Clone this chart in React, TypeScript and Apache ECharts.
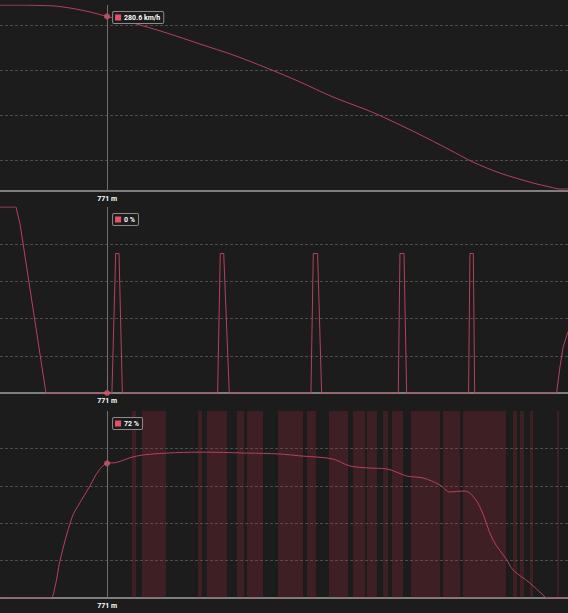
import React, { useEffect, useRef } from 'react';
import * as echarts from 'echarts';

// lap distance in metres
const speedDistance = [0, 144, 288, 396, 504, 648, 771, 958, 1202, 1440, 1678, 1922, 2160, 2398, 2642, 2758, 3002, 3240, 3406, 3600, 3838, 3960, 4032, 4090];
const speedKmh = [290.4, 290.4, 290.1, 289.6, 287.9, 284.5, 280.6, 275.0, 266.3, 256.8, 247.4, 236.1, 224.1, 211.1, 199.9, 193.9, 180.0, 165.4, 155.0, 145.5, 136.9, 133.5, 131.7, 131.9];

const brakeDistance = [0, 115, 144, 331, 806, 833, 857, 881, 1567, 1586, 1611, 1651, 2239, 2256, 2287, 2316, 2868, 2880, 2909, 2928, 3374, 3384, 3408, 3418, 4008, 4032, 4056, 4090];
const brakePct = [100, 100, 91, 0, 0, 75, 75, 0, 0, 75, 75, 0, 0, 75, 75, 0, 0, 75, 75, 0, 0, 75, 75, 0, 0, 14, 25, 33];

const throttleDistance = [0, 360, 396, 432, 518, 576, 648, 710, 771, 842, 936, 1030, 1202, 1440, 1778, 2016, 2160, 2398, 2520, 2664, 2786, 2930, 3046, 3168, 3240, 3334, 3384, 3456, 3550, 3650, 3694, 3816, 3910, 3938, 4090];
const throttlePct = [0, 0, 6, 20, 43, 51, 60, 68, 72, 72.5, 75, 76.5, 77.5, 78, 77.5, 77, 76, 74.3, 70.6, 69.5, 69, 65.2, 64.2, 60.4, 56.7, 57.2, 56.1, 48.7, 31, 20.3, 15, 8, 1.6, 0, 0];

// shaded stretches on the throttle trace [from, to] in metres
const throttleBands = [
  [950, 979], [1022, 1195], [1426, 1454], [1490, 1634], [1706, 1757], [1778, 1894],
  [2002, 2182], [2210, 2275], [2369, 2506], [2542, 2628], [2642, 2714], [2758, 2794],
  [2822, 2902], [2959, 3168], [3190, 3312], [3334, 3643], [3694, 3722], [3744, 3773],
  [3816, 3838], [4010, 4025],
];

// cursor readout
const cursorDistance = 771;
const cursorValues = [280.6, 0, 72];
const cursorUnits = ['km/h', '%', '%'];

const lapLength = 4090;

const BG = '#1c1c1c';
const LINE = '#b8405c';
const DOT = '#e8506a';
const GRID_LINE = '#4c4c4c';
const FONT = 'Roboto';

const gridTops = [5, 207, 411];
const gridHeights = [186, 186, 187];

const pair = (xs: number[], ys: number[]) => xs.map((x, i) => [x, ys[i]]);

const App: React.FC = () => {
  const chartRef = useRef<HTMLDivElement>(null);

  useEffect(() => {
    if (!chartRef.current) return;
    document.body.style.margin = '0';
    document.body.style.background = BG;

    const chart = echarts.init(chartRef.current, undefined, { renderer: 'svg' });

    const dashed = {
      show: true,
      showMinLine: false,
      showMaxLine: false,
      lineStyle: { color: GRID_LINE, type: [3, 2] as number[], width: 1 },
    };

    const xAxis = gridTops.map((_, i) => ({
      type: 'value' as const,
      gridIndex: i,
      min: 0,
      max: lapLength,
      axisLabel: { show: false },
      axisTick: { show: false },
      splitLine: { show: false },
      axisLine: { show: true, onZero: false, lineStyle: { color: '#a0a0a0', width: 1.5 } },
      axisPointer: {
        show: true,
        type: 'line' as const,
        value: cursorDistance,
        status: 'show' as const,
        snap: false,
        triggerTooltip: false,
        lineStyle: { color: '#707070', width: 1, type: 'solid' as const },
        label: {
          show: true,
          formatter: (p: any) => `${Math.round(p.value)} m`,
          backgroundColor: 'transparent',
          color: '#ffffff',
          fontSize: 7,
          fontWeight: 'bold' as const,
          fontFamily: FONT,
          padding: [2, 3],
          margin: 2,
          shadowBlur: 0,
        },
      },
    }));

    const hidden = {
      axisLine: { show: false },
      axisTick: { show: false },
      axisLabel: { show: false },
    };

    const option: echarts.EChartsOption = {
      animation: false,
      backgroundColor: BG,
      grid: gridTops.map((top, i) => ({ left: 0, right: 0, top, height: gridHeights[i] })),
      xAxis,
      yAxis: [
        // speed
        { type: 'value', gridIndex: 0, min: 130, max: 290.5, ...hidden, splitLine: { show: false } },
        // helper scale for the speed panel's guide lines
        { type: 'value', gridIndex: 0, position: 'left', min: -31 / 45, max: 155 / 45, ...hidden, splitLine: dashed },
        // brake
        { type: 'value', gridIndex: 1, min: 0, max: 100, interval: 20, ...hidden, splitLine: dashed },
        // throttle
        { type: 'value', gridIndex: 2, min: 0, max: 100, interval: 20, ...hidden, splitLine: dashed },
      ],
      series: [
        {
          name: 'Speed',
          type: 'line',
          xAxisIndex: 0,
          yAxisIndex: 0,
          data: pair(speedDistance, speedKmh),
          smooth: 0.3,
          showSymbol: false,
          lineStyle: { color: LINE, width: 1 },
          z: 3,
        },
        {
          name: 'Brake',
          type: 'line',
          xAxisIndex: 1,
          yAxisIndex: 2,
          data: pair(brakeDistance, brakePct),
          showSymbol: false,
          lineStyle: { color: LINE, width: 1 },
          z: 3,
        },
        {
          name: 'Throttle',
          type: 'line',
          xAxisIndex: 2,
          yAxisIndex: 3,
          data: pair(throttleDistance, throttlePct),
          smooth: 0.35,
          showSymbol: false,
          lineStyle: { color: LINE, width: 1 },
          z: 3,
          markArea: {
            silent: true,
            itemStyle: { color: 'rgba(200, 45, 70, 0.2)' },
            data: throttleBands.map(([a, b]) => [{ xAxis: a }, { xAxis: b }]) as any,
          },
        },
        ...[0, 2, 3].map((yAxisIndex, i) => ({
          type: 'scatter' as const,
          xAxisIndex: i,
          yAxisIndex,
          data: [[cursorDistance, cursorValues[i]]],
          symbolSize: 6,
          itemStyle: { color: DOT },
          z: 10,
          silent: true,
        })),
      ],
    };

    chart.setOption(option);

    // readout boxes next to the cursor line
    const graphic = cursorValues.map((v, i) => {
      const px = chart.convertToPixel({ xAxisIndex: i }, cursorDistance) as number;
      return {
        type: 'text' as const,
        x: px + 6,
        y: gridTops[i] + 7,
        z: 100,
        silent: true,
        style: {
          text: `{sq| }{t|${v} ${cursorUnits[i]}}`,
          backgroundColor: BG,
          borderColor: '#8a8a8a',
          borderWidth: 1,
          borderRadius: 1,
          padding: [2, 3, 2, 2],
          rich: {
            sq: { width: 6, height: 6, backgroundColor: DOT, verticalAlign: 'middle' },
            t: {
              fill: '#ffffff',
              fontSize: 7,
              fontWeight: 'bold',
              fontFamily: FONT,
              padding: [0, 0, 0, 3],
              verticalAlign: 'middle',
            },
          },
        },
      };
    });
    chart.setOption({ graphic });

    const handleResize = () => chart.resize();
    window.addEventListener('resize', handleResize);

    return () => {
      window.removeEventListener('resize', handleResize);
      chart.dispose();
    };
  }, []);

  return <div ref={chartRef} style={{ width: '568px', height: '613px', background: BG }} />;
};

export default App;
